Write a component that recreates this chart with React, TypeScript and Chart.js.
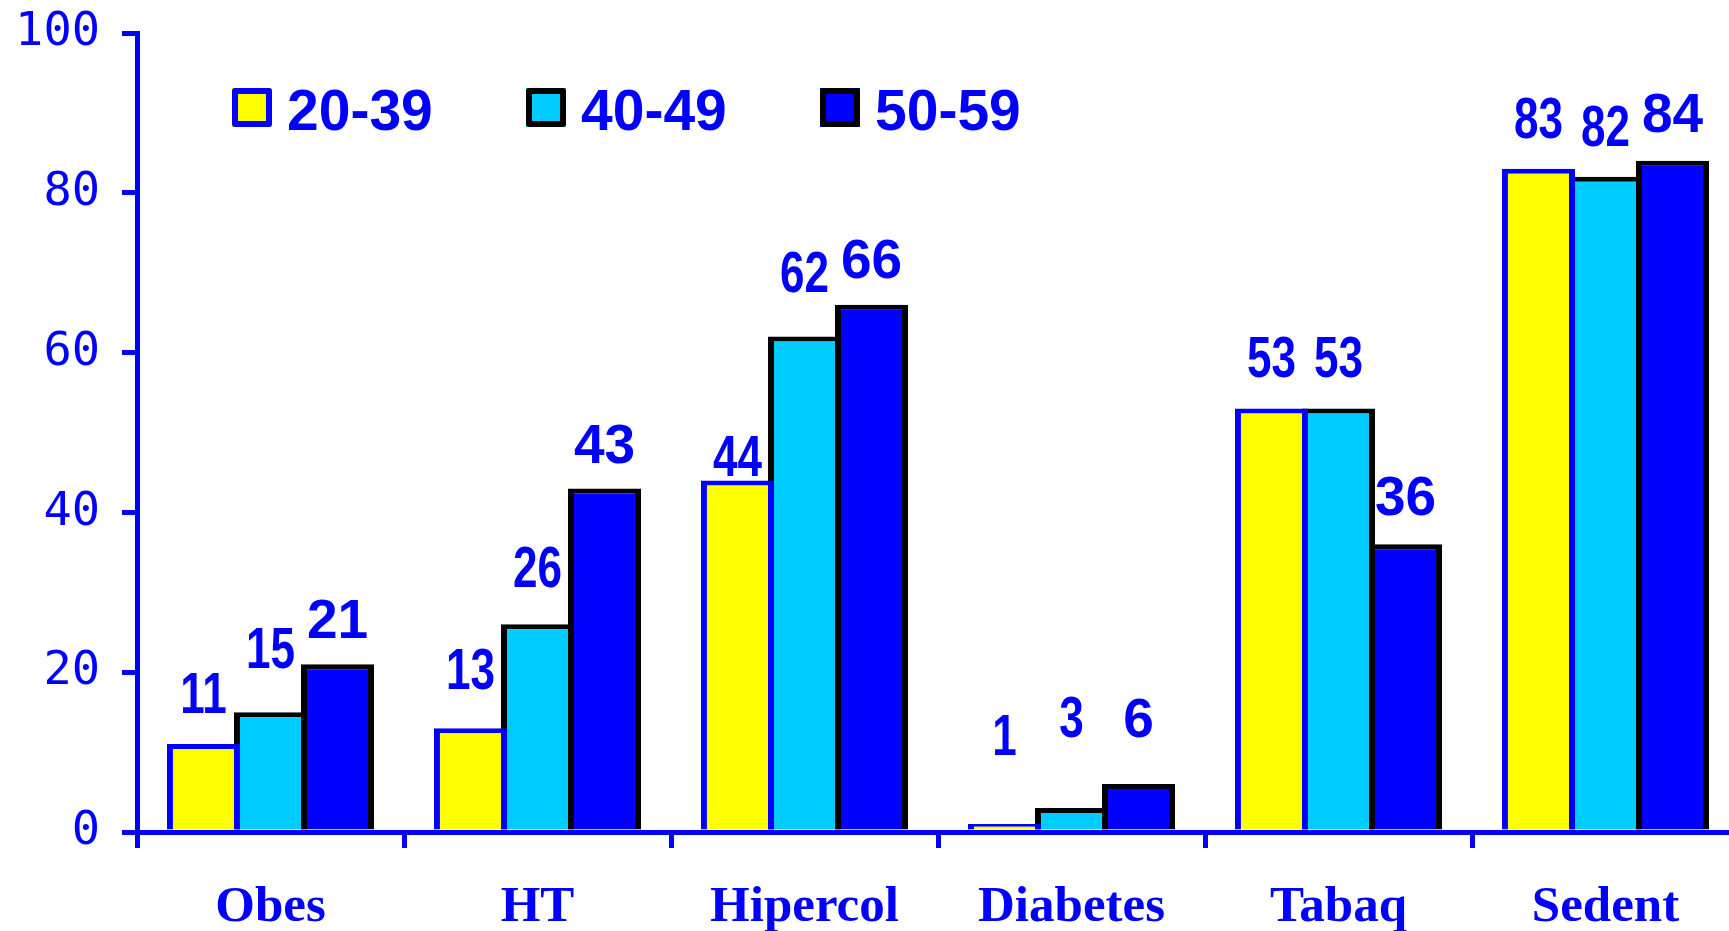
import React, { useEffect, useRef } from "react";
import { Chart, registerables } from "chart.js";

Chart.register(...registerables);

const categories = ["Obes", "HT", "Hipercol", "Diabetes", "Tabaq", "Sedent"];
const seriesNames = ["20-39", "40-49", "50-59"];
const values2039 = [11, 13, 44, 1, 53, 83];
const values4049 = [15, 26, 62, 3, 53, 82];
const values5059 = [21, 43, 66, 6, 36, 84];
const yTicks = [0, 20, 40, 60, 80, 100];

const BLUE = "#0000FF";
const fills = ["#FFFF00", "#00CCFF", "#0000FF"];
const borders = ["#0000FF", "#000000", "#000000"];
// gap (px) between each bar top and its value label, per series
const labelGaps = [
  [31, 39, 4, 69, 32, 31],
  [44, 37, 45, 71, 32, 31],
  [26, 25, 27, 47, 29, 29],
];
const narrowLabels = [true, true, false];

const valueLabelPlugin = {
  id: "valueLabels",
  afterDatasetsDraw(chart: any) {
    const ctx = chart.ctx;
    ctx.save();
    ctx.fillStyle = BLUE;
    ctx.textAlign = "center";
    ctx.textBaseline = "alphabetic";
    chart.data.datasets.forEach((ds: any, di: number) => {
      const meta = chart.getDatasetMeta(di);
      meta.data.forEach((el: any, i: number) => {
        const text = String(ds.data[i]);
        const yBase = el.y - labelGaps[di][i];
        ctx.save();
        ctx.translate(el.x, yBase);
        if (narrowLabels[di]) {
          ctx.font = "bold 58px 'Liberation Sans', Arial, sans-serif";
          ctx.scale(0.76, 1);
        } else {
          ctx.font = "bold 55px 'Liberation Sans', Arial, sans-serif";
        }
        ctx.fillText(text, 0, 0);
        ctx.restore();
      });
    });
    ctx.restore();
  },
};

const legendPlugin = {
  id: "customLegend",
  afterDraw(chart: any) {
    const ctx = chart.ctx;
    ctx.save();
    const startX = 232;
    const step = 294;
    const boxY = 88;
    const boxW = 40;
    const boxH = 39;
    chart.data.datasets.forEach((ds: any, i: number) => {
      const x = startX + i * step;
      ctx.fillStyle = ds.backgroundColor;
      ctx.fillRect(x, boxY, boxW, boxH);
      ctx.strokeStyle = ds.borderColor;
      ctx.lineWidth = 6;
      ctx.lineJoin = "round";
      ctx.strokeRect(x + 3, boxY + 3, boxW - 6, boxH - 6);
      ctx.fillStyle = BLUE;
      ctx.font = "bold 57px 'Liberation Sans', Arial, sans-serif";
      ctx.textAlign = "left";
      ctx.textBaseline = "alphabetic";
      ctx.fillText(ds.label, x + boxW + 15, 130);
    });
    ctx.restore();
  },
};

export default function App() {
  const canvasRef = useRef<HTMLCanvasElement | null>(null);

  useEffect(() => {
    const canvas = canvasRef.current;
    if (!canvas) return;
    const seriesValues = [values2039, values4049, values5059];
    const chart = new Chart(canvas, {
      type: "bar",
      data: {
        labels: categories,
        datasets: seriesNames.map((name, i) => ({
          label: name,
          data: seriesValues[i],
          backgroundColor: fills[i],
          borderColor: borders[i],
          borderWidth: { top: 5, left: 6, right: 6, bottom: 0 },
          borderSkipped: false,
          barPercentage: 1.09,
          categoryPercentage: 0.753,
        })),
      },
      options: {
        responsive: false,
        animation: false,
        events: [],
        layout: { padding: { left: 0, right: 21, top: 33, bottom: 0 } },
        plugins: {
          legend: { display: false },
          tooltip: { enabled: false },
        },
        scales: {
          x: {
            offset: true,
            z: 1,
            grid: {
              offset: true,
              drawOnChartArea: false,
              drawTicks: true,
              tickLength: 16,
              color: BLUE,
              lineWidth: 5,
            },
            border: { color: BLUE, width: 5 },
            ticks: {
              color: BLUE,
              font: {
                family: "'Liberation Serif', 'Times New Roman', serif",
                size: 51,
                weight: "bold",
              },
              padding: 29,
              maxRotation: 0,
              minRotation: 0,
              autoSkip: false,
            },
            afterFit: (s: any) => {
              s.height = 99;
              s.paddingLeft = 0;
              s.paddingRight = 0;
            },
          },
          y: {
            min: 0,
            max: 100,
            z: 1,
            afterBuildTicks: (s: any) => {
              s.ticks = yTicks.map((v) => ({ value: v }));
            },
            grid: {
              drawOnChartArea: false,
              drawTicks: true,
              tickLength: 15,
              color: BLUE,
              lineWidth: 5,
            },
            border: { color: BLUE, width: 5 },
            ticks: {
              color: BLUE,
              font: { family: "'DejaVu Sans Mono', monospace", size: 47 },
              padding: 22,
            },
            afterFit: (s: any) => {
              s.width = 137;
              s.paddingTop = 0;
              s.paddingBottom = 0;
            },
          },
        },
      },
      plugins: [valueLabelPlugin, legendPlugin],
    });
    return () => chart.destroy();
  }, []);

  return (
    <div
      style={{
        position: "absolute",
        left: 0,
        top: 0,
        width: 1729,
        height: 931,
        overflow: "hidden",
        background: "#ffffff",
      }}
    >
      <canvas
        ref={canvasRef}
        width={1760}
        height={931}
        style={{ display: "block", width: 1760, height: 931 }}
      />
    </div>
  );
}
